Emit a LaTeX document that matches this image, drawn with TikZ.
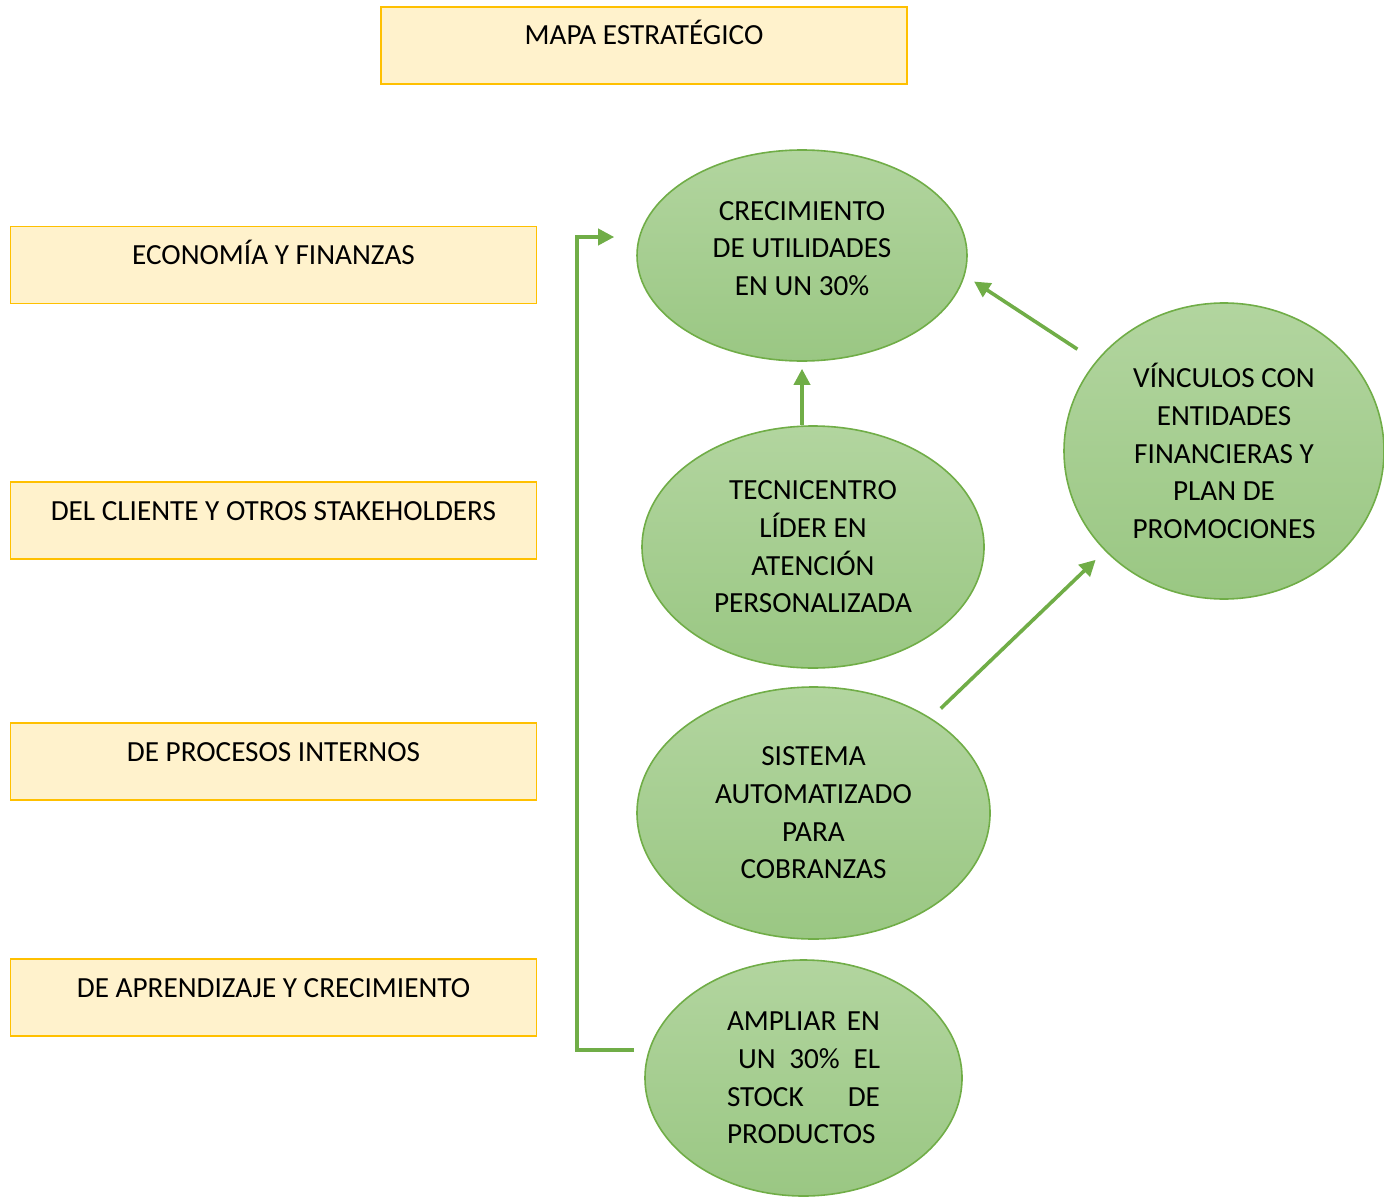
\documentclass[tikz,border=0pt]{standalone}
\usepackage{fontspec}
\setmainfont{Carlito}
\usetikzlibrary{arrows.meta,shapes.geometric}
\definecolor{boxfill}{HTML}{FFF2CC}
\definecolor{boxline}{HTML}{FFC000}
\definecolor{leafgreen}{HTML}{70AD47}
\definecolor{elltop}{HTML}{B2D59F}
\definecolor{ellbot}{HTML}{9AC783}

\begin{document}
\begin{tikzpicture}[x=0.5pt,y=-0.5pt,
    font=\fontsize{14.6}{18.8}\selectfont,
    catbox/.style={draw=boxline,line width=0.8pt,fill=boxfill,minimum width=263pt,
      inner sep=0pt,text height=19pt,text depth=19.5pt},
    goal/.style={ellipse,draw=leafgreen,line width=0.8pt,top color=elltop,
      bottom color=ellbot,inner sep=0pt,align=center},
    arr/.style={draw=leafgreen,line width=1.8pt,-{Triangle[length=8pt,width=8pt]}}]
    \useasboundingbox (0,0) rectangle (1384,1198);
    % perspectives
    \node[catbox] (title) at (644,45.5) {MAPA ESTRATÉGICO};
    \node[catbox] (eco) at (273.5,265) {ECONOMÍA Y FINANZAS};
    \node[catbox] (cli) at (273.5,520.5) {DEL CLIENTE Y OTROS STAKEHOLDERS};
    \node[catbox] (proc) at (273.5,761.5) {DE PROCESOS INTERNOS};
    \node[catbox] (apr) at (273.5,997.5) {DE APRENDIZAJE Y CRECIMIENTO};
    % objectives
    \node[goal,minimum width=165pt,minimum height=105.5pt,text depth=7pt] (crec) at (802,255.5)
      {CRECIMIENTO\\DE UTILIDADES\\EN UN 30\%};
    \node[goal,minimum width=160pt,minimum height=148pt] (vin) at (1224,451)
      {VÍNCULOS CON\\ENTIDADES\\FINANCIERAS Y\\PLAN DE\\PROMOCIONES};
    \node[goal,minimum width=171pt,minimum height=121pt] (tec) at (813,547)
      {TECNICENTRO\\LÍDER EN\\ATENCIÓN\\PERSONALIZADA};
    \node[goal,minimum width=176.5pt,minimum height=126pt] (sis) at (813.5,813)
      {SISTEMA\\AUTOMATIZADO\\PARA\\COBRANZAS};
    \node[goal,minimum width=158.5pt,minimum height=118pt,text width=76.5pt,align=left] (amp) at (803.5,1078)
      {AMPLIAR\hfill EN\\\hspace*{5.5pt}UN\hfill 30\%\hfill EL\\STOCK\hfill DE\\PRODUCTOS};
    % links
    \draw[arr] ([shift={(-5pt,14pt)}]amp.west) -- ++(-28.5pt,0pt) |- ([shift={(-11pt,9.25pt)}]crec.west);
    \draw[arr,shorten >=3.5pt] (crec.south |- tec.north) -- (crec.south);
    \draw[arr,shorten <=11pt,shorten >=5.5pt] (vin.145.5) -- (crec.-7.8);
    \draw[arr,shorten <=6.85pt,shorten >=6.4pt] (sis.39.5) -- (vin.220.2);
\end{tikzpicture}
\end{document}
